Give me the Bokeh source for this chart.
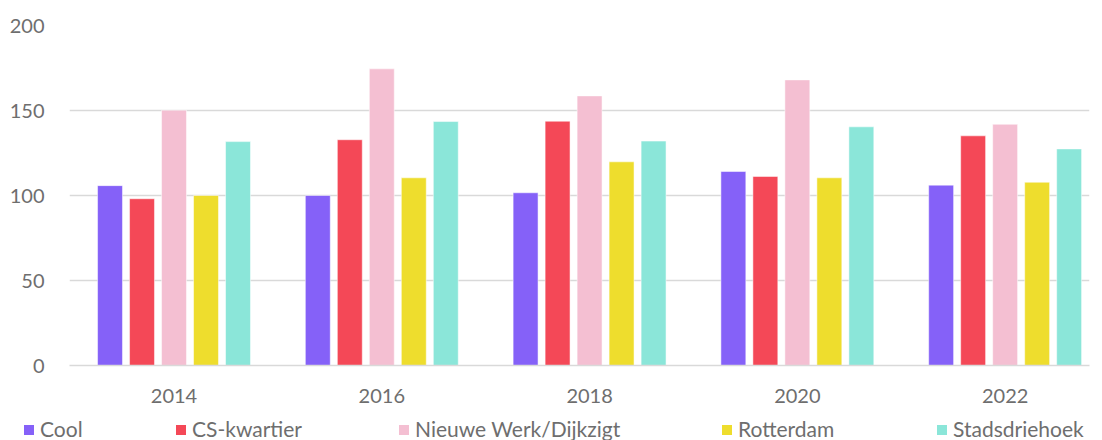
from bokeh.plotting import figure
from bokeh.layouts import column
from bokeh.models import Range1d, ColumnDataSource, FixedTicker, Div
from bokeh.transform import dodge
from bokeh.embed import file_html
from bokeh.resources import INLINE

years = ["2014", "2016", "2018", "2020", "2022"]
series = ["Cool", "CS-kwartier", "Nieuwe Werk/Dijkzigt", "Rotterdam", "Stadsdriehoek"]
cool = [105.8, 100.0, 101.6, 114.1, 106.1]
cs_kwartier = [98.1, 132.8, 143.7, 111.2, 135.1]
nieuwe_werk = [150.2, 174.5, 158.6, 168.0, 141.9]
rotterdam = [100.0, 110.4, 119.8, 110.4, 107.8]
stadsdriehoek = [131.7, 143.5, 132.0, 140.4, 127.4]
y_ticks = [0, 50, 100, 150, 200]

colors = ["#8561F8", "#F44857", "#F4BFD2", "#EEDD2D", "#8BE6D9"]
TXT = "#6e6e6e"
FONT = "Lato"

idx = list(range(len(years)))
source = ColumnDataSource(dict(x=idx, year=years, s0=cool, s1=cs_kwartier,
                               s2=nieuwe_werk, s3=rotterdam, s4=stadsdriehoek))

p = figure(x_range=Range1d(-0.503, 4.406), y_range=Range1d(0, 200),
           frame_width=1020, frame_height=340,
           min_border_left=69, min_border_right=5, min_border_top=25, min_border_bottom=45,
           output_backend="svg", toolbar_location=None)
p.outline_line_color = None
p.background_fill_color = "white"
p.border_fill_color = "white"

offsets = [-0.308, -0.154, 0.0, 0.154, 0.308]
for i, col in enumerate(colors):
    p.vbar(x=dodge("x", offsets[i]), top=f"s{i}", width=0.12, source=source,
           fill_color=col, line_color="white", line_width=1, line_alpha=0.5)

# axes
p.xgrid.grid_line_color = None
p.ygrid.grid_line_color = "#d9d9d9"
p.ygrid.grid_line_width = 1.5
p.yaxis.ticker = FixedTicker(ticks=y_ticks)
p.yaxis.axis_line_color = None
p.yaxis.major_tick_line_color = None
p.yaxis.minor_tick_line_color = None
p.yaxis.major_label_standoff = 19
p.yaxis.major_label_text_font = FONT
p.yaxis.major_label_text_font_size = "20px"
p.yaxis.major_label_text_color = TXT

p.xaxis.ticker = FixedTicker(ticks=idx)
p.xaxis.major_label_overrides = {i: y for i, y in zip(idx, years)}
p.xaxis.axis_line_color = "#d9d9d9"
p.xaxis.axis_line_width = 1.5
p.xaxis.major_tick_line_color = None
p.xaxis.minor_tick_line_color = None
p.xaxis.major_label_standoff = 17
p.xaxis.major_label_text_font = FONT
p.xaxis.major_label_text_font_size = "20px"
p.xaxis.major_label_text_color = TXT

# legend strip under the whole chart (item positions as in the original)
legend_left = [24, 176, 399, 722, 937]
items = []
for name, col, lx in zip(series, colors, legend_left):
    items.append(
        f'<div style="position:absolute;left:{lx}px;top:15px;width:10px;height:10px;'
        f'background:{col};"></div>'
        f'<div style="position:absolute;left:{lx + 16}px;top:8px;line-height:22px;'
        f'font-family:Lato;font-size:21px;color:{TXT};white-space:nowrap;">{name}</div>'
    )
legend_div = Div(text='<div style="position:relative;width:1094px;height:30px;">'
                      + "".join(items) + "</div>",
                 width=1094, height=30, margin=(0, 0, 0, 0))

layout = column(p, legend_div, spacing=0)
open("out.html", "w").write(file_html(layout, INLINE))
